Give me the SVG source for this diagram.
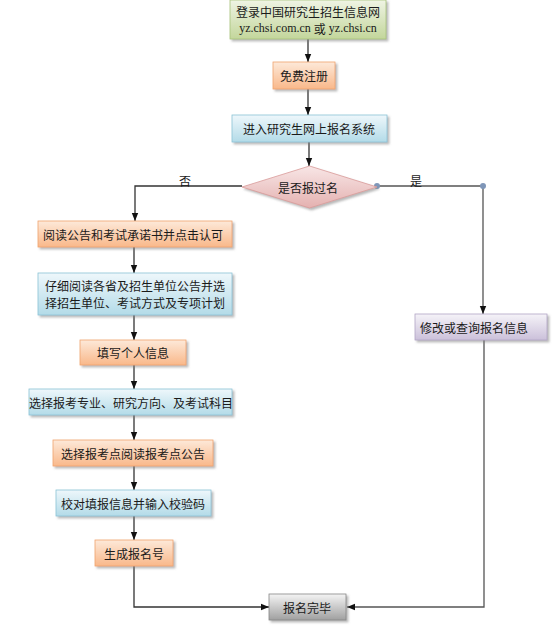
<svg xmlns="http://www.w3.org/2000/svg" width="553" height="633" viewBox="0 0 553 633">
<defs>
<linearGradient id="gOrange" x1="0" y1="0" x2="0" y2="1"><stop offset="0" stop-color="#fde9d9"/><stop offset="1" stop-color="#f9b88a"/></linearGradient>
<linearGradient id="gBlue" x1="0" y1="0" x2="0" y2="1"><stop offset="0" stop-color="#eef7fb"/><stop offset="1" stop-color="#b3dbe8"/></linearGradient>
<linearGradient id="gGreen" x1="0" y1="0" x2="0" y2="1"><stop offset="0" stop-color="#eff4e4"/><stop offset="1" stop-color="#c3d69b"/></linearGradient>
<linearGradient id="gPurple" x1="0" y1="0" x2="0" y2="1"><stop offset="0" stop-color="#f5f3f8"/><stop offset="1" stop-color="#cbc0da"/></linearGradient>
<linearGradient id="gGray" x1="0" y1="0" x2="0" y2="1"><stop offset="0" stop-color="#f4f4f4"/><stop offset="1" stop-color="#a0a0a0"/></linearGradient>
<linearGradient id="gPink" x1="0" y1="0" x2="0" y2="1"><stop offset="0" stop-color="#f8e6e6"/><stop offset="1" stop-color="#e4b1b0"/></linearGradient>
<filter id="sh" x="-10%" y="-20%" width="130%" height="160%"><feDropShadow dx="2" dy="2" stdDeviation="1.2" flood-color="#808080" flood-opacity="0.55"/></filter>
<marker id="arr" markerUnits="userSpaceOnUse" markerWidth="8" markerHeight="8" viewBox="0 0 8 8" refX="8" refY="4" orient="auto"><path d="M0,0.8 L8,4 L0,7.2 Z" fill="#111"/></marker>
</defs>
<style>
.t{font-family:"Noto Sans CJK SC","Liberation Sans",sans-serif;font-size:12px;fill:#1a1a1a;text-anchor:middle;dominant-baseline:central}
.s{font-family:"Liberation Serif","Noto Sans CJK SC",serif;font-size:12px;fill:#1a1a1a;text-anchor:middle;dominant-baseline:central}
.c{fill:none;stroke:#333;stroke-width:1.3}
.cg{fill:none;stroke:#555;stroke-width:1.3}
.o{fill:url(#gOrange);stroke:#f0a46e;stroke-width:0.8;filter:url(#sh)}
.b{fill:url(#gBlue);stroke:#8cc3d6;stroke-width:0.8;filter:url(#sh)}
.g{fill:url(#gGreen);stroke:#a9c27a;stroke-width:0.8;filter:url(#sh)}
.p{fill:url(#gPurple);stroke:#b2a6c6;stroke-width:0.8;filter:url(#sh)}
.y{fill:url(#gGray);stroke:#888;stroke-width:0.8;filter:url(#sh)}
.k{fill:url(#gPink);stroke:#d99a99;stroke-width:0.8;filter:url(#sh)}
.dot{fill:#7f96b8}
</style>
<g id="connectors">
<path class="c" d="M308,39 V62" marker-end="url(#arr)"/>
<path class="c" d="M308,89 V115" marker-end="url(#arr)"/>
<path class="c" d="M309,142 V166" marker-end="url(#arr)"/>
<path class="c" d="M242,186 H135 V221" marker-end="url(#arr)"/>
<path class="cg" d="M377,186 H483 V314" marker-end="url(#arr)"/>
<circle class="dot" cx="377" cy="186" r="3"/>
<circle class="dot" cx="483" cy="186" r="3"/>
<path class="c" d="M134,247 V273" marker-end="url(#arr)"/>
<path class="c" d="M134,315 V340" marker-end="url(#arr)"/>
<path class="c" d="M134,365 V389" marker-end="url(#arr)"/>
<path class="c" d="M134,415 V440" marker-end="url(#arr)"/>
<path class="c" d="M134,466 V490" marker-end="url(#arr)"/>
<path class="c" d="M134,516 V540" marker-end="url(#arr)"/>
<path class="c" d="M134,566 V607 H269" marker-end="url(#arr)"/>
<path class="cg" d="M484,340 V607 H347" marker-end="url(#arr)"/>
<text class="t" x="185" y="180">否</text>
<text class="t" x="416" y="180">是</text>
</g>
<g id="n1"><rect class="g" x="230" y="0" width="156" height="39"/><text class="t" x="308" y="11">登录中国研究生招生信息网</text><text class="s" x="308" y="28">yz.chsi.com.cn <tspan style="font-family:'Noto Sans CJK SC',sans-serif">或</tspan> yz.chsi.cn</text></g>
<g id="n2"><rect class="o" x="273" y="62" width="62" height="27"/><text class="t" x="304" y="75.5">免费注册</text></g>
<g id="n3"><rect class="b" x="232" y="115" width="155" height="27"/><text class="t" x="309" y="128.5">进入研究生网上报名系统</text></g>
<g id="n4"><polygon class="k" points="309.5,166 377,187 309.5,208 242,187"/><text class="t" x="308" y="187">是否报过名</text></g>
<g id="n5"><rect class="o" x="38" y="221" width="194" height="26"/><text class="t" x="133" y="234">阅读公告和考试承诺书并点击认可</text></g>
<g id="n6"><rect class="b" x="38" y="273" width="194" height="42"/><text class="t" x="135" y="285.5">仔细阅读各省及招生单位公告并选</text><text class="t" x="135" y="302.5">择招生单位、考试方式及专项计划</text></g>
<g id="n7"><rect class="o" x="80" y="340" width="106" height="25"/><text class="t" x="133" y="352.5">填写个人信息</text></g>
<g id="n8"><rect class="b" x="29" y="389" width="203" height="26"/><text class="t" x="131" y="402">选择报考专业、研究方向、及考试科目</text></g>
<g id="n9"><rect class="o" x="53" y="440" width="160" height="26"/><text class="t" x="133" y="453">选择报考点阅读报考点公告</text></g>
<g id="n10"><rect class="b" x="56" y="490" width="155" height="26"/><text class="t" x="133" y="503">校对填报信息并输入校验码</text></g>
<g id="n11"><rect class="o" x="95" y="540" width="78" height="26"/><text class="t" x="134" y="553">生成报名号</text></g>
<g id="n12"><rect class="p" x="415" y="314" width="132" height="26"/><text class="t" x="474" y="327">修改或查询报名信息</text></g>
<g id="n13"><rect class="y" x="269" y="594" width="77" height="26"/><text class="t" x="307" y="607">报名完毕</text></g>
</svg>
